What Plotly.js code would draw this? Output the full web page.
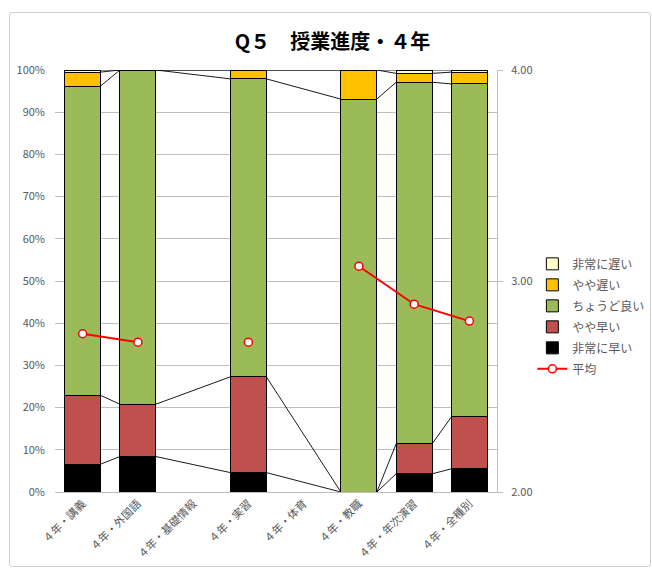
<!DOCTYPE html>
<html>
<head>
<meta charset="utf-8">
<script src="https://cdn.plot.ly/plotly-3.0.1.min.js"></script>
<style>
  html, body { margin: 0; padding: 0; background: #fff; }
  #wrap { position: relative; width: 652px; height: 570px; }
  #chart { position: absolute; left: 0; top: 0; width: 652px; height: 570px; }
  #frame { position: absolute; left: 9px; top: 12px; width: 640px; height: 553px;
           border: 1px solid #D0D0D0; border-radius: 3px; pointer-events: none; }
</style>
</head>
<body>
<div id="wrap">
  <div id="chart"></div>
  <div id="frame"></div>
</div>
<script>
// ---- data (percent of respondents) ----
const categories = ["４年・講義", "４年・外国語", "４年・基礎情報", "４年・実習", "４年・体育", "４年・教職", "４年・年次演習", "４年・全種別"];
const seriesNames = ["非常に早い", "やや早い", "ちょうど良い", "やや遅い", "非常に遅い"];
const veryEarly = [6.6, 8.4, null, 4.6, null, 0, 4.3, 5.5];
const early     = [16.3, 12.4, null, 22.7, null, 0, 7.1, 12.3];
const justRight = [73.3, 79.2, null, 70.6, null, 93.1, 85.7, 78.9];
const late      = [3.3, 0, null, 2.1, null, 6.9, 2.1, 2.8];
const veryLate  = [0.5, 0, null, 0, null, 0, 0.8, 0.5];
const average   = [2.75, 2.71, null, 2.71, null, 3.07, 2.89, 2.81];
const averageName = "平均";

// ---- styling ----
const colors = ["#000000", "#C0504D", "#9BBB59", "#FFC000", "#FFFFCC"];
const ranks = [5, 4, 3, 2, 1];
const barWidth = 0.65;
const FONT = "'Noto Sans CJK JP', 'Noto Sans', sans-serif";
const xs = categories.map((_, i) => i);
const seriesValues = [veryEarly, early, justRight, late, veryLate];

const traces = [];
seriesValues.forEach((vals, k) => {
  traces.push({
    type: "bar", x: xs, y: vals, name: seriesNames[k], width: barWidth,
    marker: { color: colors[k], line: { color: "#000000", width: 1 } },
    legendrank: ranks[k], legendgroup: "g" + k, hoverinfo: "name+y"
  });
});

// series lines (Excel style) connecting tops of each stack segment between adjacent bars
const present = xs.filter(i => veryEarly[i] !== null);
const cum = [];
let running = xs.map(() => 0);
seriesValues.forEach(vals => {
  running = running.map((r, i) => r + (vals[i] || 0));
  cum.push(running.slice());
});
cum.forEach(top => {
  const lx = [], ly = [];
  for (let p = 0; p < present.length - 1; p++) {
    const a = present[p], b = present[p + 1];
    lx.push(a + barWidth / 2, b - barWidth / 2, null);
    ly.push(top[a], top[b], null);
  }
  traces.push({ type: "scatter", mode: "lines", x: lx, y: ly, showlegend: false,
    hoverinfo: "skip", line: { color: "#000000", width: 0.9 }, connectgaps: false });
});

traces.push({
  type: "scatter", mode: "lines+markers", x: xs, y: average, name: averageName,
  yaxis: "y2", connectgaps: false, legendrank: 6, legendgroup: "avg",
  line: { color: "#FF0000", width: 2 },
  marker: { symbol: "circle", size: 8, color: "#FFFFFF", line: { color: "#FF0000", width: 1.5 } }
});

const layout = {
  width: 652, height: 570,
  margin: { l: 55, r: 155, t: 70, b: 78, autoexpand: false },
  paper_bgcolor: "rgba(0,0,0,0)", plot_bgcolor: "#FFFFFF",
  font: { family: FONT, size: 11, color: "#595959" },
  title: { text: "<b>Q５　授業進度・４年</b>", x: 0.51, xanchor: "center", y: 0.927, yanchor: "middle",
           font: { family: FONT, size: 20, color: "#000000" } },
  barmode: "stack", bargap: 0.35,
  showlegend: true,
  legend: { x: 1.08, xanchor: "left", y: 0.575, yanchor: "top", traceorder: "grouped",
            font: { family: FONT, size: 12, color: "#595959" }, bgcolor: "rgba(0,0,0,0)",
            itemwidth: 30, tracegroupgap: 2 },
  xaxis: {
    range: [-0.5, 7.5], tickvals: xs, ticktext: categories, tickangle: -45,
    showgrid: false, zeroline: false, showline: true, linecolor: "#BFBFBF", linewidth: 1,
    ticks: "", tickfont: { family: FONT, size: 11, color: "#595959" }, fixedrange: true
  },
  yaxis: {
    range: [0, 100], dtick: 10, ticksuffix: "%", showgrid: true, gridcolor: "#BFBFBF", gridwidth: 1,
    zeroline: false, showline: false, ticks: "", ticklabelstandoff: 9,
    tickfont: { family: FONT, size: 11, color: "#595959" }
  },
  yaxis2: {
    range: [2, 4], dtick: 1, tickformat: ".2f", overlaying: "y", side: "right",
    showgrid: false, zeroline: false, showline: true, linecolor: "#BFBFBF", linewidth: 1,
    ticks: "outside", ticklen: 5, tickcolor: "#BFBFBF", ticklabelstandoff: 6,
    tickfont: { family: FONT, size: 11, color: "#595959" }
  }
};

Plotly.newPlot("chart", traces, layout, { displayModeBar: false, staticPlot: true });
</script>
</body>
</html>
